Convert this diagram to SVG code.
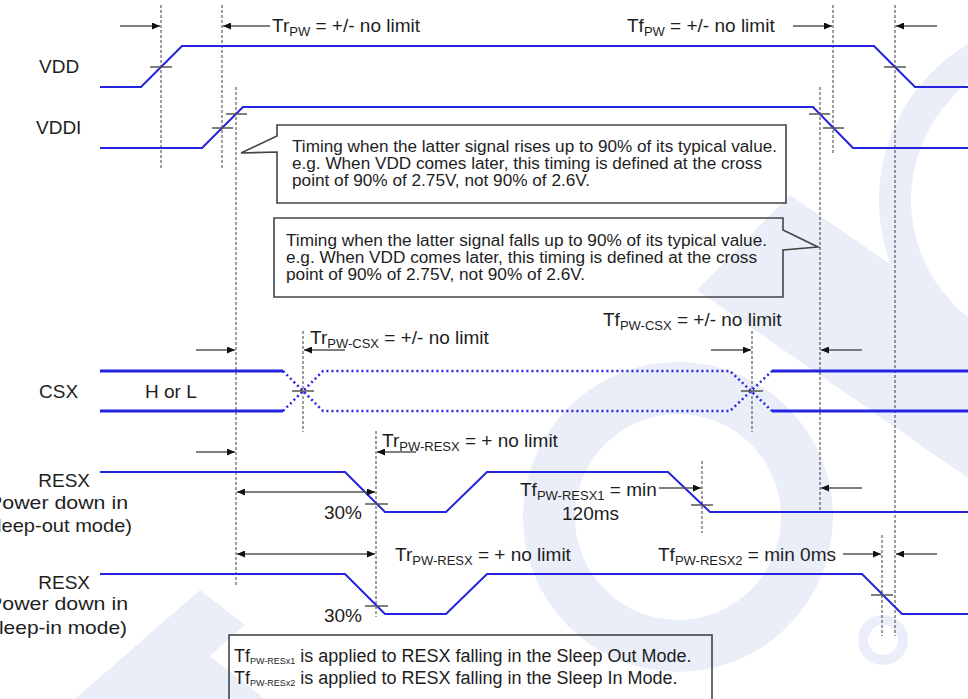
<svg xmlns="http://www.w3.org/2000/svg" width="968" height="699" viewBox="0 0 968 699">
<defs>
<marker id="ah" markerUnits="userSpaceOnUse" markerWidth="9" markerHeight="7" refX="8" refY="3.5" orient="auto-start-reverse">
<path d="M0,0 L8,3.5 L0,7 z" fill="#111"/>
</marker>
<style>
.wm{fill:#eaeef8;stroke:none}
.wmr{fill:none;stroke:#eaeef8}
.sig{fill:none;stroke:#2424e0;stroke-width:2;stroke-linejoin:miter}
.sig3{fill:none;stroke:#2424e0;stroke-width:3}
.dot{fill:none;stroke:#2424e0;stroke-width:2.5;stroke-dasharray:2 3}
.guide{fill:none;stroke:#3a3a3a;stroke-width:1;stroke-dasharray:3 2}
.tick{fill:none;stroke:#555;stroke-width:1.5}
.arr{fill:none;stroke:#555;stroke-width:1.5;marker-end:url(#ah)}
.arr2{fill:none;stroke:#555;stroke-width:1.5;marker-end:url(#ah);marker-start:url(#ah)}
.box{fill:none;stroke:#444;stroke-width:1.6}
text{font-family:"Liberation Sans",Arial,sans-serif;fill:#1e1e1e}
.lbl{font-size:19px}
.sub{font-size:13px}
.co{font-size:16px}
.nt{font-size:18px}
.nsub{font-size:9px}
</style>
</defs>
<rect width="968" height="699" fill="#fff"/>
<g id="watermark">
<circle class="wmr" cx="678" cy="517" r="129" stroke-width="52"/>
<circle class="wmr" cx="1060" cy="200" r="165" stroke-width="32"/>
<polygon class="wm" points="697,290 790,195 968,318 968,478"/>
<circle class="wmr" cx="883" cy="640" r="20" stroke-width="10"/>
<polygon class="wm" points="75,699 200,590 245,625 160,699"/>
<polygon class="wm" points="115,699 208,655 265,699"/>
</g>
<g id="guides">
<line class="guide" x1="161" y1="5" x2="161" y2="169"/>
<line class="guide" x1="222" y1="5" x2="222" y2="169"/>
<line class="guide" x1="236" y1="87" x2="236" y2="587"/>
<line class="guide" x1="833" y1="5" x2="833" y2="154"/>
<line class="guide" x1="895" y1="5" x2="895" y2="636"/>
<line class="guide" x1="820" y1="87" x2="820" y2="511"/>
<line class="guide" x1="303" y1="331" x2="303" y2="432"/>
<line class="guide" x1="752" y1="331" x2="752" y2="432"/>
<line class="guide" x1="376" y1="431" x2="376" y2="617"/>
<line class="guide" x1="702" y1="461" x2="702" y2="533"/>
<line class="guide" x1="882" y1="535" x2="882" y2="636"/>
</g>
<g id="vdd">
<text class="lbl" x="39" y="73">VDD</text>
<polyline class="sig" points="100,87 141,87 182,46 874,46 915,87 968,87"/>
<line class="tick" x1="150" y1="67" x2="172" y2="67"/>
<line class="tick" x1="884" y1="67" x2="906" y2="67"/>
</g>
<g id="vddi">
<text class="lbl" x="36" y="134">VDDI</text>
<polyline class="sig" points="100,148 202,148 243,107 813,107 853,148 968,148"/>
<line class="tick" x1="212" y1="128" x2="233" y2="128"/>
<line class="tick" x1="226" y1="114" x2="247" y2="114"/>
<line class="tick" x1="809" y1="114" x2="830" y2="114"/>
<line class="tick" x1="823" y1="128" x2="844" y2="128"/>
</g>
<g id="callout-rise">
<path class="box" d="M277,125 H786 V203 H277 V152 L241,153 L277,136 Z"/>
<text class="co" x="292" y="152" textLength="485" lengthAdjust="spacingAndGlyphs">Timing when the latter signal rises up to 90% of its typical value.</text>
<text class="co" x="292" y="169" textLength="470" lengthAdjust="spacingAndGlyphs">e.g. When VDD comes later, this timing is defined at the cross</text>
<text class="co" x="292" y="186" textLength="298" lengthAdjust="spacingAndGlyphs">point of 90% of 2.75V, not 90% of 2.6V.</text>
</g>
<g id="callout-fall">
<path class="box" d="M274,218 H783 V230 L818,247 L783,250 V297 H274 Z"/>
<text class="co" x="286" y="246" textLength="481" lengthAdjust="spacingAndGlyphs">Timing when the latter signal falls up to 90% of its typical value.</text>
<text class="co" x="286" y="263" textLength="471" lengthAdjust="spacingAndGlyphs">e.g. When VDD comes later, this timing is defined at the cross</text>
<text class="co" x="286" y="280" textLength="299" lengthAdjust="spacingAndGlyphs">point of 90% of 2.75V, not 90% of 2.6V.</text>
</g>
<g id="csx">
<text class="lbl" x="39" y="398">CSX</text>
<text class="lbl" x="145" y="398">H or L</text>
<line class="sig3" x1="100" y1="371" x2="283" y2="371"/>
<line class="sig3" x1="100" y1="411" x2="283" y2="411"/>
<polyline class="dot" points="283,371 323,411 730,411 772,371"/>
<polyline class="dot" points="283,411 323,371 730,371 772,411"/>
<line class="sig3" x1="772" y1="371" x2="968" y2="371"/>
<line class="sig3" x1="772" y1="411" x2="968" y2="411"/>
<line class="tick" x1="292" y1="391" x2="314" y2="391"/>
<line class="tick" x1="741" y1="391" x2="763" y2="391"/>
</g>
<g id="resx-sleep-out">
<text class="lbl" x="90" y="487" text-anchor="end">RESX</text>
<text class="lbl" x="128" y="509" text-anchor="end" textLength="147" lengthAdjust="spacingAndGlyphs">(Power down in</text>
<text class="lbl" x="132" y="532" text-anchor="end" textLength="155" lengthAdjust="spacingAndGlyphs">(Sleep-out mode)</text>
<polyline class="sig" points="100,472 345,472 385,512 446,512 487,472 668,472 710,512 968,512"/>
<line class="tick" x1="365" y1="504" x2="388" y2="504"/>
<line class="tick" x1="691" y1="505" x2="713" y2="505"/>
<text class="lbl" x="362" y="519" text-anchor="end">30%</text>
</g>
<g id="resx-sleep-in">
<text class="lbl" x="90" y="589" text-anchor="end">RESX</text>
<text class="lbl" x="128" y="610" text-anchor="end" textLength="147" lengthAdjust="spacingAndGlyphs">(Power down in</text>
<text class="lbl" x="127" y="634" text-anchor="end" textLength="149" lengthAdjust="spacingAndGlyphs">(Sleep-in mode)</text>
<polyline class="sig" points="100,574 345,574 385,614 446,614 487,574 862,574 902,614 968,614"/>
<line class="tick" x1="365" y1="606" x2="388" y2="606"/>
<line class="tick" x1="871" y1="595" x2="893" y2="595"/>
<text class="lbl" x="362" y="622" text-anchor="end">30%</text>
</g>
<g id="connectors">
<line class="arr" x1="120" y1="26" x2="160" y2="26"/>
<line class="arr" x1="270" y1="26" x2="223" y2="26"/>
<line class="arr" x1="793" y1="26" x2="832" y2="26"/>
<line class="arr" x1="937" y1="26" x2="896" y2="26"/>
<line class="arr" x1="196" y1="350" x2="235" y2="350"/>
<line class="arr" x1="345" y1="350" x2="304" y2="350"/>
<line class="arr" x1="711" y1="350" x2="751" y2="350"/>
<line class="arr" x1="862" y1="350" x2="821" y2="350"/>
<line class="arr" x1="196" y1="452" x2="235" y2="452"/>
<line class="arr" x1="416" y1="452" x2="377" y2="452"/>
<line class="arr2" x1="237" y1="492" x2="375" y2="492"/>
<line class="arr" x1="659" y1="488" x2="701" y2="488"/>
<line class="arr" x1="862" y1="488" x2="821" y2="488"/>
<line class="arr2" x1="237" y1="554" x2="375" y2="554"/>
<line class="arr" x1="843" y1="554" x2="881" y2="554"/>
<line class="arr" x1="937" y1="554" x2="896" y2="554"/>
</g>
<g id="timing-labels">
<text class="lbl" x="272" y="32">Tr<tspan class="sub" dy="4">PW</tspan><tspan dy="-4"> = +/- no limit</tspan></text>
<text class="lbl" x="627" y="32">Tf<tspan class="sub" dy="4">PW</tspan><tspan dy="-4"> = +/- no limit</tspan></text>
<text class="lbl" x="310" y="344">Tr<tspan class="sub" dy="4">PW-CSX</tspan><tspan dy="-4"> = +/- no limit</tspan></text>
<text class="lbl" x="603" y="326">Tf<tspan class="sub" dy="4">PW-CSX</tspan><tspan dy="-4"> = +/- no limit</tspan></text>
<text class="lbl" x="382" y="447">Tr<tspan class="sub" dy="4">PW-RESX</tspan><tspan dy="-4"> = + no limit</tspan></text>
<text class="lbl" x="520" y="496">Tf<tspan class="sub" dy="4">PW-RESX1</tspan><tspan dy="-4"> = min</tspan></text>
<text class="lbl" x="562" y="520">120ms</text>
<text class="lbl" x="395" y="561">Tr<tspan class="sub" dy="4">PW-RESX</tspan><tspan dy="-4"> = + no limit</tspan></text>
<text class="lbl" x="658" y="561">Tf<tspan class="sub" dy="4">PW-RESX2</tspan><tspan dy="-4"> = min 0ms</tspan></text>
</g>
<g id="note">
<rect class="box" x="229" y="635" width="483" height="70"/>
<text class="nt" x="234" y="662">Tf<tspan class="nsub" dy="2">PW-RESx1</tspan><tspan dy="-2"> is applied to RESX falling in the Sleep Out Mode.</tspan></text>
<text class="nt" x="234" y="684">Tf<tspan class="nsub" dy="2">PW-RESx2</tspan><tspan dy="-2"> is applied to RESX falling in the Sleep In Mode.</tspan></text>
</g>
</svg>
